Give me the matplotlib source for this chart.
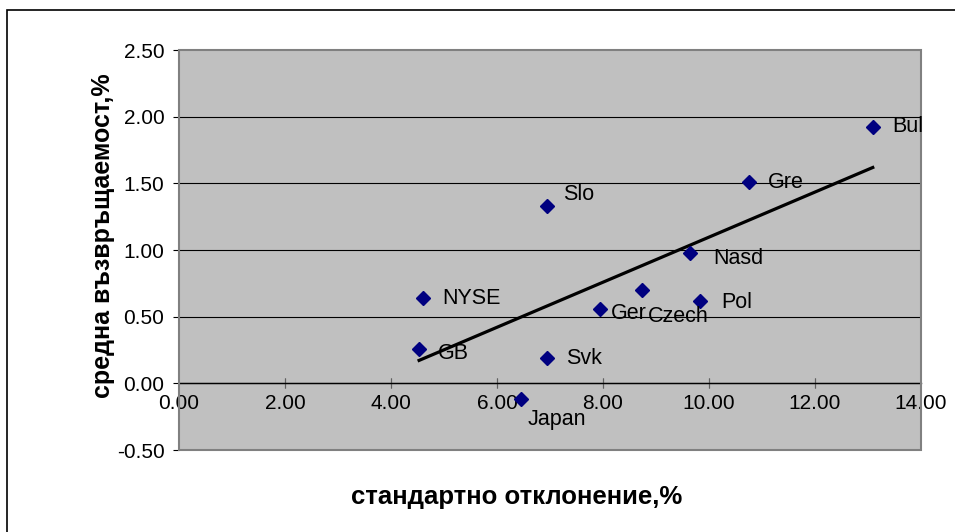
import numpy as np
import matplotlib
matplotlib.use("Agg")
import matplotlib.pyplot as plt
from matplotlib.patches import Rectangle

plt.rcParams['font.family'] = ['Liberation Sans', 'DejaVu Sans']

# Risk/return by market
markets = ["Bul", "Gre", "Nasd", "Pol", "Slo", "NYSE", "GB", "Svk", "Japan", "Ger", "Czech"]
std_dev = [13.09, 10.76, 9.64, 9.83, 6.94, 4.60, 4.53, 6.94, 6.46, 7.94, 8.73]
mean_return = [1.92, 1.51, 0.98, 0.62, 1.33, 0.64, 0.26, 0.19, -0.12, 0.56, 0.70]

x_ticks = [0, 2, 4, 6, 8, 10, 12, 14]
y_ticks = [-0.5, 0.0, 0.5, 1.0, 1.5, 2.0, 2.5]

# label offsets (pixels right / up from each marker)
label_offsets = {
    "Bul": (19, 1), "Gre": (19, 0), "Nasd": (23, -6), "Pol": (21, -2),
    "Slo": (16, 11), "NYSE": (19, 0), "GB": (19, -5), "Svk": (19, 0),
    "Japan": (6, -20), "Ger": (11, -5), "Czech": (6, -27),
}

W, H, DPI = 955, 532, 100
fig = plt.figure(figsize=(W / DPI, H / DPI), dpi=DPI)
fig.patch.set_facecolor("white")

# outer chart border
fig.add_artist(Rectangle((7 / W, 0 - 0.01), 1.05, (H - 10) / H + 0.01,
                         transform=fig.transFigure, fill=False,
                         edgecolor="black", linewidth=1.2))

L, R, T, B = 179, 921, 50, 450
ax = fig.add_axes([L / W, 1 - B / H, (R - L) / W, (B - T) / H])
ax.set_facecolor("#C0C0C0")
ax.set_xlim(0, 14)
ax.set_ylim(-0.5, 2.5)

for s in ("top", "right", "left"):
    ax.spines[s].set_visible(False)
ax.spines["bottom"].set_position(("data", 0))
ax.spines["bottom"].set_color("black")
ax.spines["bottom"].set_linewidth(1.0)
ax.add_patch(Rectangle((0, 0), 1, 1, transform=ax.transAxes, fill=False,
                       edgecolor="#808080", linewidth=1.5, zorder=5, clip_on=False))

# horizontal gridlines
for yv in y_ticks[1:-1]:
    ax.axhline(yv, color="black", linewidth=0.8, zorder=1)

ax.set_xticks(x_ticks)
ax.set_xticklabels([f"{v:.2f}" for v in x_ticks])
ax.set_yticks(y_ticks)
ax.set_yticklabels([f"{v:.2f}" for v in y_ticks])
ax.tick_params(axis="x", direction="in", length=0, pad=8, labelsize=15)
ax.tick_params(axis="y", direction="out", length=4.5, width=0.8, pad=6, labelsize=15,
               color="black")
for xv in x_ticks[1:-1]:
    ax.plot([xv, xv], [0, 0], marker="|", markersize=7, color="#606060",
            markeredgewidth=0.8, zorder=2, clip_on=False)

# trend line
xs = np.array(std_dev)
ys = np.array(mean_return)
k, b = np.polyfit(xs, ys, 1)
xl = np.array([xs.min(), xs.max()])
ax.plot(xl, k * xl + b, color="black", linewidth=2.3, zorder=3)

ax.plot(xs, ys, linestyle="none", marker="D", markersize=7.3,
        color="#000080", zorder=4)

for name, xv, yv in zip(markets, std_dev, mean_return):
    dx, dy = label_offsets[name]
    ax.annotate(name, (xv, yv), xytext=(dx * 72 / DPI, dy * 72 / DPI),
                textcoords="offset points", ha="left", va="center",
                fontsize=15.5, color="black", zorder=6)

fig.text(517 / W, 1 - 497 / H, "стандартно отклонение,%", ha="center", va="center",
         fontsize=18.5, fontweight="bold")
fig.text(103 / W, 1 - 236 / H, "средна възвръщаемост,%", ha="center", va="center",
         rotation=90, fontsize=18, fontweight="bold")

fig.savefig("out.png", dpi=DPI)
